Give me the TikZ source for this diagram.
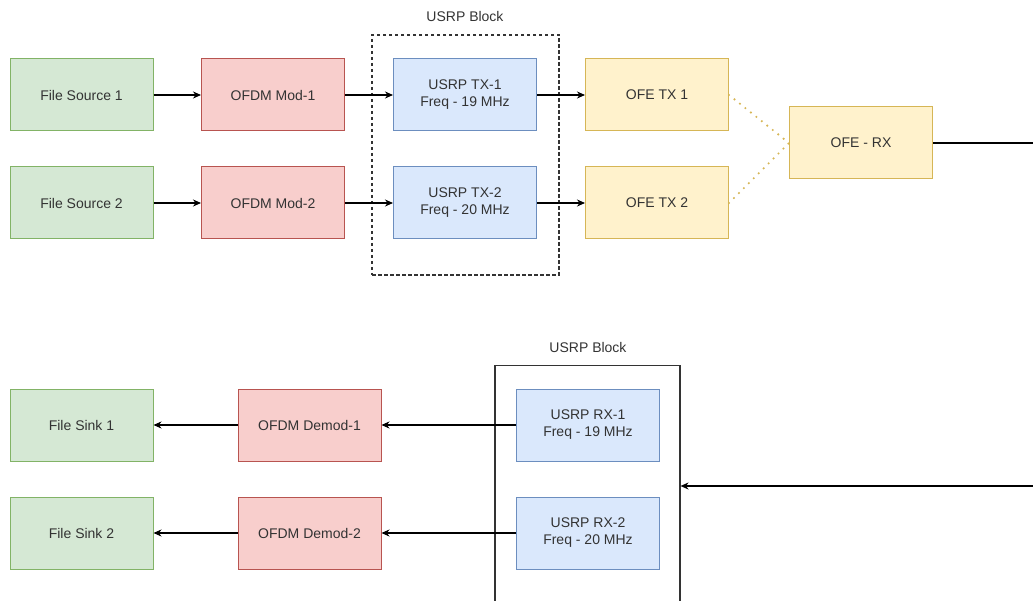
\documentclass[tikz,border=0pt]{standalone}
\usepackage{fontspec}
\setmainfont{Liberation Sans}
\usetikzlibrary{arrows.meta}

\definecolor{srcfill}{HTML}{D5E8D4}
\definecolor{srcline}{HTML}{82B366}
\definecolor{modfill}{HTML}{F8CECC}
\definecolor{modline}{HTML}{B85450}
\definecolor{usrpfill}{HTML}{DAE8FC}
\definecolor{usrpline}{HTML}{6C8EBF}
\definecolor{ofefill}{HTML}{FFF2CC}
\definecolor{ofeline}{HTML}{D6B656}
\definecolor{txt}{HTML}{333333}

\begin{document}
\begin{tikzpicture}
	[
	x=1pt, y=-1pt,
	align=center,
	font=\fontsize{14}{17}\selectfont,
	text=txt,
	node/.style={draw, line width=1pt, minimum width=143pt, minimum height=72pt, inner sep=0pt},
	src/.style={node, fill=srcfill, draw=srcline},
	mod/.style={node, fill=modfill, draw=modline},
	usrp/.style={node, fill=usrpfill, draw=usrpline},
	ofe/.style={node, fill=ofefill, draw=ofeline},
	blk/.style={draw=black!80, line width=1.1pt, inner sep=0pt},
	lbl/.style={inner sep=0pt},
	arr/.style={line width=1.1pt, -{Stealth[length=8pt,width=7pt]}},
	]
		\useasboundingbox (0,0) rectangle (1033,601);
		\clip (0,0) rectangle (1033,601);
		
		% transmitter side
		\node[src] (fs1) at 		( 81.5,  95 ) {File Source 1};
		\node[src] (fs2) at 		( 81.5, 203 ) {File Source 2};
		\node[mod] (m1) at 			(273.0,  95 ) {OFDM Mod-1};
		\node[mod] (m2) at 			(273.0, 203 ) {OFDM Mod-2};
		\node[blk, dash pattern=on 3.5pt off 2.5pt, minimum width=187pt, minimum height=240pt] (txb) at (465.5, 155) {};
		\node[lbl] (txl) at 		(465.0,  17 ) {USRP Block};
		\node[usrp] (tx1) at 		(465.0,  95 ) {USRP TX-1\\Freq - 19 MHz};
		\node[usrp] (tx2) at 		(465.0, 203 ) {USRP TX-2\\Freq - 20 MHz};
		\node[ofe] (o1) at 			(657.0,  95 ) {OFE TX 1};
		\node[ofe] (o2) at 			(657.0, 203 ) {OFE TX 2};
		\node[ofe] (orx) at 		(861.0, 143 ) {OFE - RX};
		\coordinate (out) at 		(1040, 143 );
		
		% receiver side
		\node[src] (sk1) at 		( 81.5, 425 ) {File Sink 1};
		\node[src] (sk2) at 		( 81.5, 533 ) {File Sink 2};
		\node[mod] (d1) at 			(309.5, 425 ) {OFDM Demod-1};
		\node[mod] (d2) at 			(309.5, 533 ) {OFDM Demod-2};
		\node[blk, anchor=north, minimum width=185pt, minimum height=260pt] (rxb) at (587.5, 365) {};
		\node[lbl] (rxl) at 		(588.0, 347 ) {USRP Block};
		\node[usrp] (rx1) at 		(588.0, 425 ) {USRP RX-1\\Freq - 19 MHz};
		\node[usrp] (rx2) at 		(588.0, 533 ) {USRP RX-2\\Freq - 20 MHz};
		\coordinate (in) at 		(1040, 486 );
		
		\foreach \from/\to in {fs1/m1,fs2/m2,m1/tx1,m2/tx2,tx1/o1,tx2/o2} \draw[arr] (\from) -- (\to);
		\foreach \from/\to in {rx1/d1,rx2/d2,d1/sk1,d2/sk2} \draw[arr] (\from) -- (\to);
		\foreach \from in {o1,o2} \draw[ofeline, line width=2.4pt, line cap=round, dash pattern=on 0pt off 7pt] (\from.east) -- (orx.west);
		\draw[line width=1.1pt] (orx) -- (out);
		\draw[arr] (in) -- (rxb.east |- in);
		
	\end{tikzpicture}
\end{document}
